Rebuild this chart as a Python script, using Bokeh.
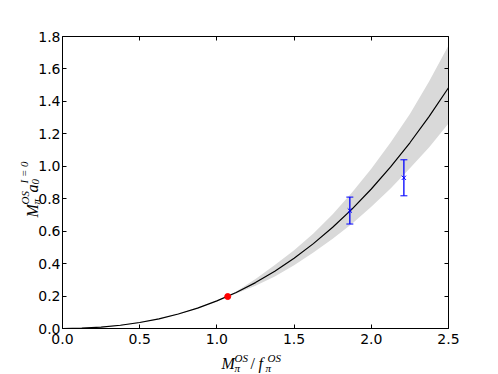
import math
from bokeh.plotting import figure
from bokeh.models import (ColumnDataSource, FixedTicker, LinearAxis, Label, Range1d,
                          NumeralTickFormatter, CustomLabelingPolicy)
from bokeh.embed import file_html
from bokeh.resources import INLINE

# ---- data ----
curve_x = [0.0, 0.125, 0.25, 0.375, 0.5, 0.625, 0.75, 0.875, 1.0, 1.125, 1.25,
           1.375, 1.5, 1.625, 1.75, 1.875, 2.0, 2.125, 2.25, 2.375, 2.5]
curve_y = [0.0, 0.002, 0.0085, 0.020, 0.0369, 0.0598, 0.0893, 0.1258, 0.170, 0.2223, 0.283,
           0.3533, 0.433, 0.5232, 0.624, 0.7361, 0.860, 0.9963, 1.145, 1.308, 1.484]
band_upper = [0.0, 0.003, 0.0105, 0.023, 0.0399, 0.0628, 0.0923, 0.1288, 0.173, 0.2283, 0.305,
              0.3913, 0.482, 0.5852, 0.705, 0.8391, 0.984, 1.1473, 1.323, 1.524, 1.744]
band_lower = [0.0, 0.001, 0.0065, 0.017, 0.0339, 0.0568, 0.0863, 0.1228, 0.167, 0.2163, 0.264,
              0.3203, 0.390, 0.4692, 0.553, 0.6461, 0.751, 0.8633, 0.988, 1.118, 1.264]

phys_x = [1.07]
phys_y = [0.197]

lat_x = [1.861, 2.211]
lat_y = [0.727, 0.929]
lat_err = [0.083, 0.111]

x_ticks = [0.0, 0.5, 1.0, 1.5, 2.0, 2.5]
y_ticks = [0.0, 0.2, 0.4, 0.6, 0.8, 1.0, 1.2, 1.4, 1.6, 1.8]

X_MIN, X_MAX = 0.0, 2.5
Y_MIN, Y_MAX = 0.0, 1.8

# ---- layout (pixels on the canvas) ----
W, H = 498, 374
AX_LEFT, AX_RIGHT, AX_TOP, AX_BOTTOM = 62, 448, 36, 328


def dx(px):
    return X_MIN + (px - AX_LEFT) * (X_MAX - X_MIN) / (AX_RIGHT - AX_LEFT)


def dy(py):
    return Y_MIN + (AX_BOTTOM - py) * (Y_MAX - Y_MIN) / (AX_BOTTOM - AX_TOP)


p = figure(frame_width=W, frame_height=H,
           x_range=Range1d(dx(0), dx(W)), y_range=Range1d(dy(H), dy(0)),
           x_axis_location=None, y_axis_location=None, title=None,
           output_backend="svg", toolbar_location=None,
           min_border=0, min_border_left=0, min_border_right=0,
           min_border_top=0, min_border_bottom=0,
           background_fill_color="white", border_fill_color="white")
p.grid.visible = False
p.outline_line_color = None

no_labels = CustomLabelingPolicy(code="""
for (const i of indices) { indices.unset(i) }
return indices
""")


def make_axis(ticks, loc, bounds, show_labels, standoff):
    ax = LinearAxis(fixed_location=loc, bounds=bounds)
    ax.ticker = FixedTicker(ticks=ticks)
    ax.formatter = NumeralTickFormatter(format="0.0")
    ax.major_tick_in = 4
    ax.major_tick_out = 0
    ax.minor_tick_in = 0
    ax.minor_tick_out = 0
    ax.axis_line_color = "black"
    ax.axis_line_width = 1
    ax.major_tick_line_color = "black"
    ax.major_label_text_font = "DejaVu Sans"
    ax.major_label_text_font_size = "14px"
    ax.major_label_text_color = "black"
    ax.major_label_standoff = standoff
    if not show_labels:
        ax.major_label_policy = no_labels
    return ax

p.add_layout(make_axis(x_ticks, Y_MIN, (X_MIN, X_MAX), True, 5), "below")
p.add_layout(make_axis(y_ticks, X_MIN, (Y_MIN, Y_MAX), True, 2), "left")
p.add_layout(make_axis(y_ticks, X_MAX, (Y_MIN, Y_MAX), False, 0), "right")
p.add_layout(make_axis(x_ticks, Y_MAX, (X_MIN, X_MAX), False, 0), "above")

# ---- glyphs ----
band_src = ColumnDataSource(dict(x=curve_x, lo=band_lower, hi=band_upper))
p.varea(x="x", y1="lo", y2="hi", source=band_src, fill_color="#d9d9d9", fill_alpha=1.0)
p.line(curve_x, curve_y, line_color="black", line_width=1.2)

err_src = ColumnDataSource(dict(
    x=lat_x, y=lat_y,
    lo=[v - e for v, e in zip(lat_y, lat_err)],
    hi=[v + e for v, e in zip(lat_y, lat_err)]))
p.segment(x0="x", y0="lo", x1="x", y1="hi", source=err_src, line_color="blue", line_width=1.3)
p.scatter("x", "lo", source=err_src, marker="dash", size=7, line_color="blue", line_width=1)
p.scatter("x", "hi", source=err_src, marker="dash", size=7, line_color="blue", line_width=1)
p.scatter("x", "y", source=err_src, marker="x", size=6, line_color="blue", line_width=1)

p.scatter(phys_x, phys_y, marker="circle", size=6, fill_color="red", line_color="red")


# ---- math-style axis labels built from text pieces ----
def piece(txt, px, py, size, angle=0.0, italic=True):
    p.add_layout(Label(x=dx(px), y=dy(py), x_units="data", y_units="data", text=txt,
                       text_font="Liberation Serif",
                       text_font_style="italic" if italic else "normal",
                       text_font_size=size, text_color="black", angle=angle,
                       text_align="left", text_baseline="alphabetic"))

BIG, SMALL = "16px", "11px"
# x label: M_pi^OS / f_pi^OS
piece("M", 221, 363, BIG)
piece("π", 234, 367, SMALL)
piece("OS", 234, 357, SMALL)
piece("/", 250, 363, BIG, italic=False)
piece("f", 258, 363, BIG)
piece("π", 265, 367, SMALL)
piece("OS", 267, 357, SMALL)

# y label: M_pi^OS a_0^{I=0}
A = math.pi / 2
piece("M", 32, 217, BIG, A)
piece("π", 35, 204, SMALL, A)
piece("OS", 24, 204, SMALL, A)
piece("a", 32, 192, BIG, A)
piece("0", 35, 184, SMALL, A)
piece("I = 0", 23, 183, SMALL, A)

open("out.html", "w").write(file_html(p, INLINE))
